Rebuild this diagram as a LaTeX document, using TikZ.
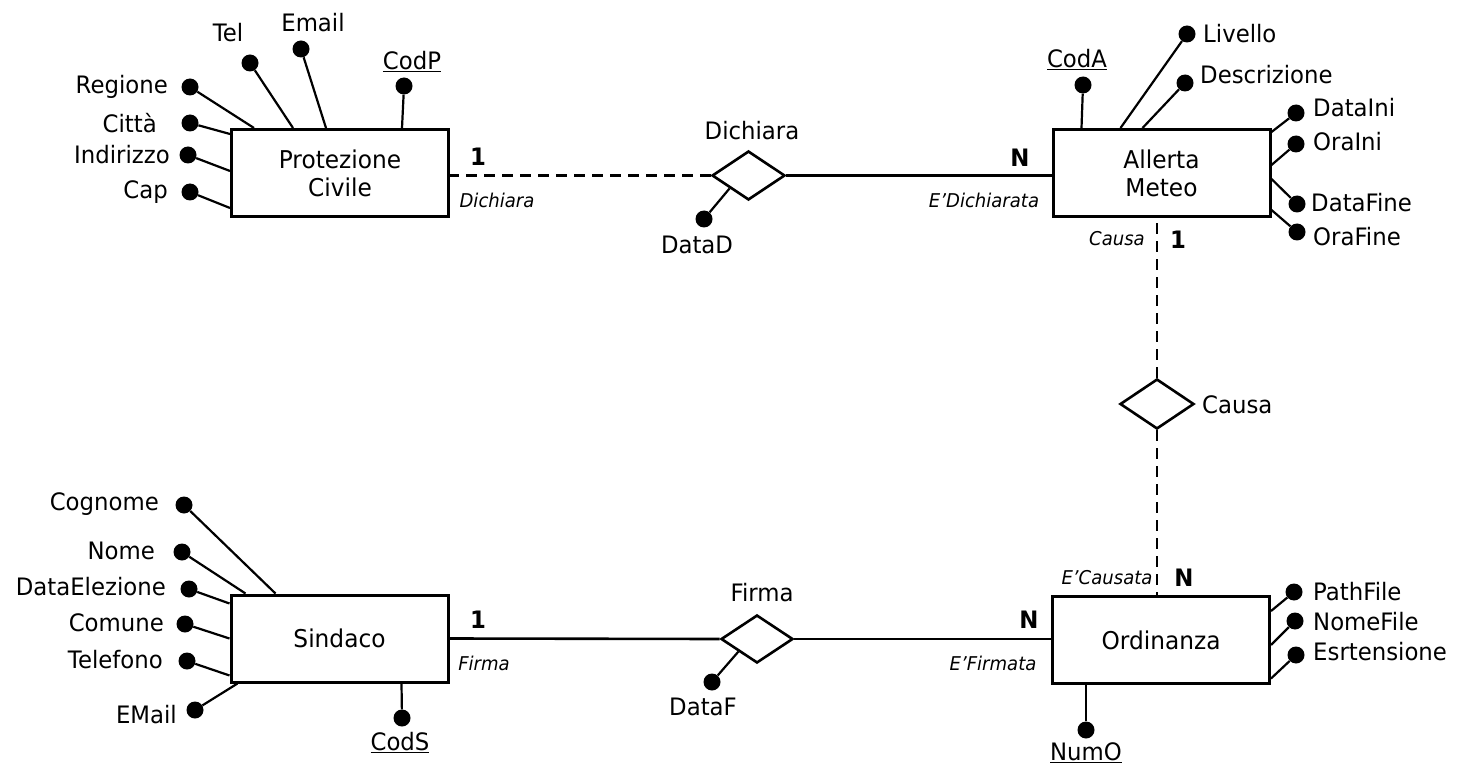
\documentclass[tikz,border=0pt]{standalone}
\usepackage{fontspec}
\setmainfont{DejaVu Sans}[FakeStretch=0.95]
\usetikzlibrary{shapes.geometric}

\begin{document}
\begin{tikzpicture}[x=1pt,y=-1pt,
	entity/.style	=	{draw,line width=3pt,minimum width=217pt,minimum height=87pt,inner sep=0pt,align=center,font=\fontsize{24.5}{28}\selectfont},
	rel/.style		=	{draw,diamond,line width=2.6pt,minimum width=73pt,minimum height=49pt,inner sep=0pt},
	dot/.style		=	{circle,fill=black,inner sep=0pt,minimum size=17pt},
	txt/.style		=	{inner sep=0pt,font=\fontsize{24}{28}\selectfont},
	card/.style		=	{inner sep=0pt,font=\fontsize{24}{28}\selectfont\bfseries},
	role/.style		=	{inner sep=0pt,font=\fontsize{19}{22}\selectfont\itshape},
	att/.style		=	{line width=2.2pt},
	link/.style		=	{line width=2.6pt},
	weak/.style		=	{line width=2.6pt,dash pattern=on 11pt off 7pt}]

	\useasboundingbox (0,0) rectangle (1458,767);

	% entities and relations
	\node[entity] (pc) at (340,173) {Protezione\\Civile};
	\node[entity] (am) at (1161.5,173) {Allerta\\Meteo};
	\node[entity] (sin) at (339.5,638.5) {Sindaco};
	\node[entity] (ord) at (1161,640) {Ordinanza};

	\node[rel] (dich) at (748.5,175.5) {};
	\node[rel,minimum width=74pt,minimum height=50pt] (cau) at (1157,404) {};
	\node[rel,minimum width=72pt,minimum height=48pt] (fir) at (757,639) {};

	\node[txt] (dichl) at (752,131) {Dichiara};
	\node[txt,anchor=west] (caul) at (1202,405) {Causa};
	\node[txt] (firl) at (762,593) {Firma};

	% connectors
	\draw[weak] (dich.west) -- (dich.west -| pc.east);
	\draw[link] (dich.east) -- (dich.east -| am.west);
	\draw[weak] (cau.north) -- (cau.north |- am.south);
	\draw[weak] (cau.south) -- (cau.south |- ord.north);
	\draw[link] (sin.east) -- (fir.west);
	\draw[link] (fir.east) -- (fir.east -| ord.west);

	\node[card] (c1) at (478,157) {1};
	\node[role] (r1) at (497,200) {Dichiara};
	\node[card] (c2) at (1020,158) {N};
	\node[role] (r2) at (984,200) {E’Dichiarata};
	\node[role] (r3) at (1117,239) {Causa};
	\node[card] (c3) at (1178,240) {1};
	\node[role] (r4) at (1107,578) {E’Causata};
	\node[card] (c4) at (1184,578) {N};
	\node[card] (c5) at (478,620) {1};
	\node[role] (r5) at (484,663) {Firma};
	\node[card] (c6) at (1029,620) {N};
	\node[role] (r6) at (993,663) {E’Firmata};

	% relation attributes
	\node[dot] (datad) at (704,219) {};
	\node[txt] (datadl) at (697,245) {DataD};
	\draw[att] (datad) -- (dich.south west);
	\node[dot] (dataf) at (712,682) {};
	\node[txt] (datafl) at (703,707) {DataF};
	\draw[att] (dataf) -- (fir.south west);

	% Protezione Civile
	\begin{scope}
		\node[dot] (codp) at (404,86) {};
		\node[dot] (email) at (301,49) {};
		\node[dot] (tel) at (250,63) {};
		\node[dot] (regione) at (190,87) {};
		\node[dot] (citta) at (190,123) {};
		\node[dot] (indirizzo) at (188,155) {};
		\node[dot] (cap) at (190,192) {};

		\node[txt] at (412,62) {\underline{CodP}};
		\node[txt] at (313,23) {Email};
		\node[txt] at (228,33) {Tel};
		\node[txt,anchor=east] at (168,87) {Regione};
		\node[txt,anchor=east] at (157,123) {Città};
		\node[txt,anchor=east] at (170,155) {Indirizzo};
		\node[txt,anchor=east] at (168,192) {Cap};

		\draw[att] (codp) -- ([xshift=172pt]pc.north west);
		\draw[att] (email) -- ([xshift=96pt]pc.north west);
		\draw[att] (tel) -- ([xshift=63pt]pc.north west);
		\draw[att] (regione) -- ([xshift=24pt]pc.north west);
		\draw[att] (citta) -- ([yshift=-6pt]pc.north west);
		\draw[att] (indirizzo) -- ([yshift=2pt]pc.west);
		\draw[att] (cap) -- ([yshift=10pt]pc.south west);
	\end{scope}

	% Allerta Meteo
	\begin{scope}
		\node[dot] (coda) at (1083,85) {};
		\node[dot] (livello) at (1187,34) {};
		\node[dot] (descrizione) at (1185,83) {};
		\node[dot] (dataini) at (1296,113) {};
		\node[dot] (oraini) at (1296,144) {};
		\node[dot] (datafine) at (1297,204) {};
		\node[dot] (orafine) at (1297,232) {};

		\node[txt] at (1077,60) {\underline{CodA}};
		\node[txt,anchor=west] at (1203,34) {Livello};
		\node[txt,anchor=west] at (1200,75) {Descrizione};
		\node[txt,anchor=west] at (1313,108) {DataIni};
		\node[txt,anchor=west] at (1313,142) {OraIni};
		\node[txt,anchor=west] at (1311,203) {DataFine};
		\node[txt,anchor=west] at (1313,237) {OraFine};

		\draw[att] (coda) -- ([xshift=30pt]am.north west);
		\draw[att] (livello) -- ([xshift=69pt]am.north west);
		\draw[att] (descrizione) -- ([xshift=91pt]am.north west);
		\draw[att] (dataini) -- ([yshift=-4pt]am.north east);
		\draw[att] (oraini) -- ([yshift=-37pt]am.north east);
		\draw[att] (datafine) -- ([yshift=-51pt]am.north east);
		\draw[att] (orafine) -- ([yshift=-82pt]am.north east);
	\end{scope}

	% Sindaco
	\begin{scope}
		\node[dot] (cognome) at (184,505) {};
		\node[dot] (nome) at (182,552) {};
		\node[dot] (dataelez) at (189,589) {};
		\node[dot] (comune) at (185,624) {};
		\node[dot] (telefono) at (187,661) {};
		\node[dot] (emails) at (195,710) {};
		\node[dot] (cods) at (402,718) {};

		\node[txt,anchor=east] at (159,504) {Cognome};
		\node[txt,anchor=east] at (155,551) {Nome};
		\node[txt,anchor=east] at (166,587) {DataElezione};
		\node[txt,anchor=east] at (164,623) {Comune};
		\node[txt,anchor=east] at (163,660) {Telefono};
		\node[txt,anchor=east] at (177,715) {EMail};
		\node[txt] at (400,743) {\underline{CodS}};

		\draw[att] (cognome) -- ([xshift=46pt]sin.north west);
		\draw[att] (nome) -- ([xshift=16pt]sin.north west);
		\draw[att] (dataelez) -- ([yshift=-10pt]sin.north west);
		\draw[att] (comune) -- (sin.west);
		\draw[att] (telefono) -- ([yshift=8pt]sin.south west);
		\draw[att] (emails) -- ([xshift=8pt]sin.south west);
		\draw[att] (cods) -- ([xshift=172pt]sin.south west);
	\end{scope}

	% Ordinanza
	\begin{scope}
		\node[dot] (pathfile) at (1294,592) {};
		\node[dot] (nomefile) at (1295,621) {};
		\node[dot] (estens) at (1296,655) {};
		\node[dot] (numo) at (1086,730) {};

		\node[txt,anchor=west] at (1313,592) {PathFile};
		\node[txt,anchor=west] at (1313,622) {NomeFile};
		\node[txt,anchor=west] at (1313,652) {Esrtensione};
		\node[txt] at (1086,753) {\underline{NumO}};

		\draw[att] (pathfile) -- ([yshift=-16pt]ord.north east);
		\draw[att] (nomefile) -- ([yshift=-5pt]ord.east);
		\draw[att] (estens) -- ([yshift=6.5pt]ord.south east);
		\draw[att] (numo) -- ([xshift=35pt]ord.south west);
	\end{scope}
\end{tikzpicture}
\end{document}
